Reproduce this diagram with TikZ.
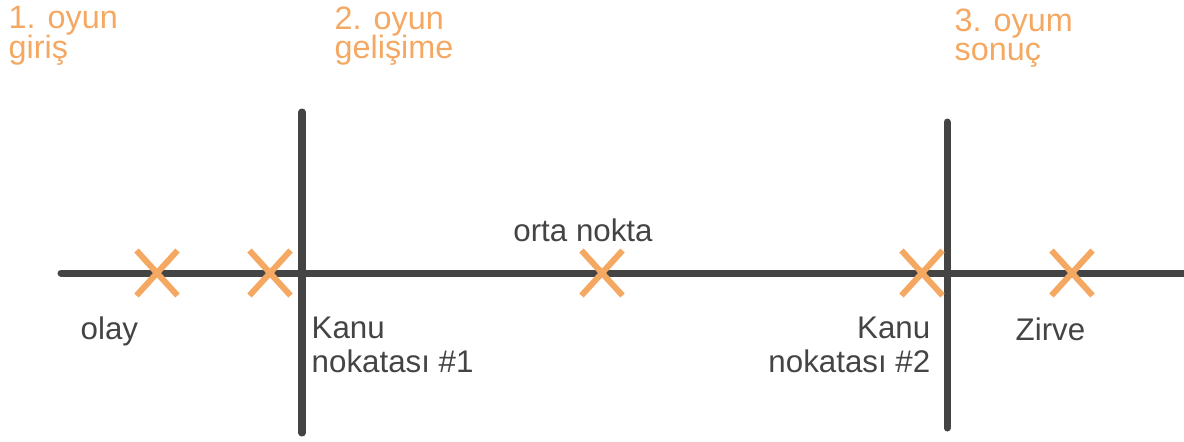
\documentclass[tikz,border=0pt]{standalone}
\usepackage{fontspec}
\setmainfont{Liberation Sans}
\usepackage{tikz}
\usetikzlibrary{shapes.misc}
\definecolor{pworange}{RGB}{245, 168, 98}
\definecolor{pwgrey}{RGB}{68, 68, 68}

\tikzset{
  axis line/.style={pwgrey, line width=0.07cm, line cap=round},
  mark x/.style={cross out, draw=pworange, line width=0.06cm, inner sep=0pt, minimum width=0.35cm, minimum height=0.39cm},
  act label/.style={pworange, inner sep=0pt, align=left, font={\fontsize{9.2pt}{8.3pt}\selectfont\lineskiplimit=-5pt}},
  point label/.style={pwgrey, inner sep=0pt, font={\fontsize{8.9pt}{9.7pt}\selectfont\lineskiplimit=-5pt}}
}

\begin{document}
\begin{tikzpicture}[x=0.01cm, y=-0.01cm]
\useasboundingbox (0, 0) rectangle (1184, 441);
\newcommand{\lineY}{273}
\coordinate (start) at (61, \lineY);
\coordinate (end) at (1190, \lineY);
\coordinate (cut1top) at (302, 112);
\coordinate (cut1bot) at (302, 433);
\coordinate (cut2top) at (947, 122);
\coordinate (cut2bot) at (947, 428);
\draw[axis line] (start) -- (end);
\draw[axis line] (cut1top) -- (cut1bot);
\draw[axis line] (cut2top) -- (cut2bot);
\foreach \name / \x in {olay / 157, kanu1 / 270, orta / 602, kanu2 / 922, zirve / 1072} {
  \node[mark x] (x-\name) at (\x, \lineY) {};
}
\node[act label, anchor=north west] (act1) at (8, 6) {1. oyun\\giriş};
\node[act label, anchor=north west] (act2) at (334, 6) {2. oyun\\gelişime};
\node[act label, anchor=north west] (act3) at (954, 8) {3. oyum\\sonuç};
\node[point label, anchor=north] (orta) at (583, 218) {orta nokta};
\node[point label, anchor=north west] (olay) at (80, 316) {olay};
\node[point label, anchor=north west, align=left] (kanu1) at (311, 316) {Kanu\\nokatası \#1};
\node[point label, anchor=north east, align=right] (kanu2) at (931, 316) {Kanu\\nokatası \#2};
\node[point label, anchor=north west] (zirve) at (1015, 317) {Zirve};
\end{tikzpicture}
\end{document}
